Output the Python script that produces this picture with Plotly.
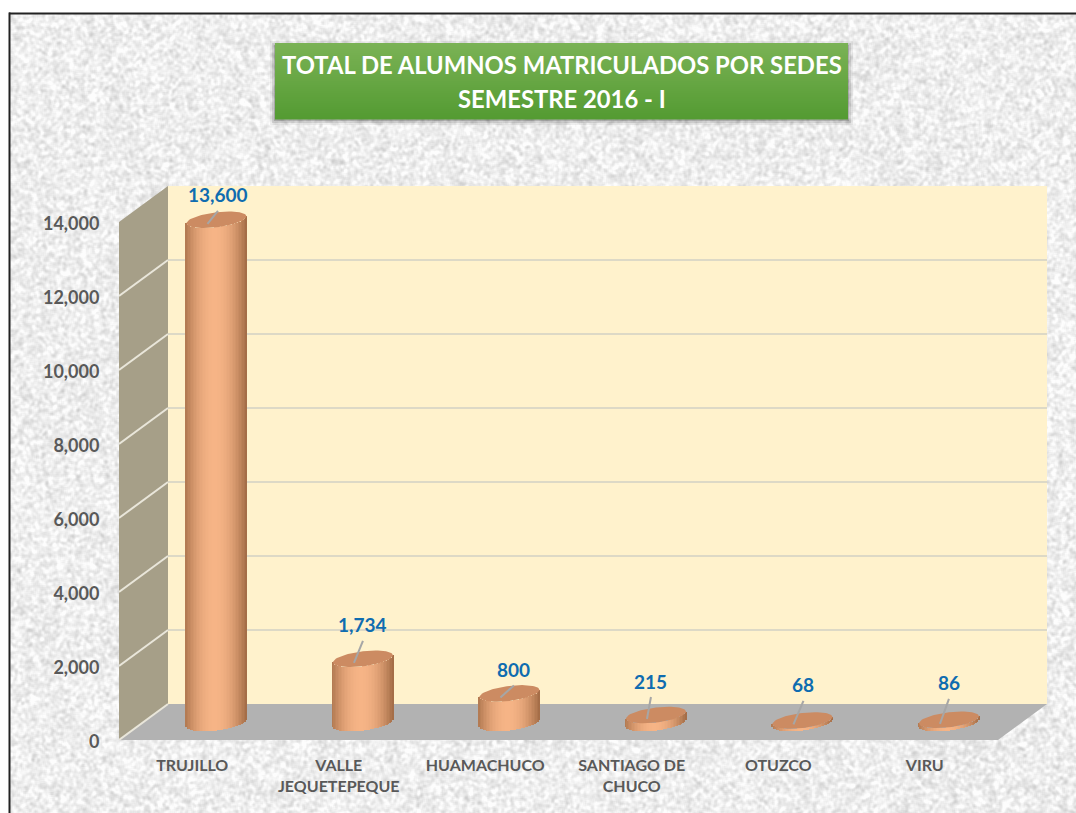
import base64, struct, zlib
import numpy as np
import plotly.graph_objects as go

categories = ["TRUJILLO", "VALLE<br>JEQUETEPEQUE", "HUAMACHUCO", "SANTIAGO DE<br>CHUCO", "OTUZCO", "VIRU"]
values = [13600, 1734, 800, 215, 68, 86]
y_ticks = [0, 2000, 4000, 6000, 8000, 10000, 12000, 14000]
title_lines = ["TOTAL DE ALUMNOS MATRICULADOS POR SEDES", "SEMESTRE 2016 - I"]

# layout constants (pixels)
W, H = 1076, 813
PL, PR, PT, PB = 119, 1047, 184, 740
XPX = 146.5            # px per category
YPX = 518 / 14000      # px per value unit
DEPTH_X, DEPTH_Y = 49, 36
BAR_DX, BAR_DY = 24.2, 17
BAR_HW, CAP_H, TILT = 30.0, 7.5, 3.5
label_dx = [1.5, 0, 4.5, -5, 1, 0]
label_dy = [-25, -34, -24, -34, -35.5, -37]

ux = lambda px: px / XPX
uy = lambda px: px / YPX
xmax = 5.5 + ux(DEPTH_X)
ymax = (PB - PT) / YPX
px_x = lambda p: (p - PL) / (PR - PL)
px_y = lambda p: (PB - p) / (PB - PT)


def texture_uri(w, h):
    yy, xx = np.mgrid[0:h, 0:w]
    n = np.sin(xx * 12.9898 + yy * 78.233) * 43758.5453
    n = n - np.floor(n)
    for _ in range(2):
        n = sum(np.roll(np.roll(n, a, 0), b, 1) for a in (-1, 0, 1) for b in (-1, 0, 1)) / 9
    n = (n - n.mean()) / n.std()
    v = np.clip(238 + n * 9, 195, 253).astype(np.uint8)
    raw = b"".join(b"\x00" + v[i].tobytes() for i in range(h))
    def chunk(t, d):
        return struct.pack(">I", len(d)) + t + d + struct.pack(">I", zlib.crc32(t + d) & 0xffffffff)
    png = b"\x89PNG\r\n\x1a\n" + chunk(b"IHDR", struct.pack(">IIBBBBB", w, h, 8, 0, 0, 0, 0)) + \
        chunk(b"IDAT", zlib.compress(raw, 9)) + chunk(b"IEND", b"")
    return "data:image/png;base64," + base64.b64encode(png).decode()


def mix(a, b, t):
    return "rgb(%d,%d,%d)" % tuple(round(a[i] + (b[i] - a[i]) * t) for i in range(3))


shapes = []
def rect(x0, y0, x1, y1, color, opacity=1.0):
    shapes.append(dict(type="rect", xref="paper", yref="paper", x0=px_x(x0), x1=px_x(x1),
                       y0=px_y(y1), y1=px_y(y0), fillcolor=color, opacity=opacity,
                       line_width=0, layer="below"))

def data_poly(pts, color):
    path = "M " + " L ".join(f"{x},{y}" for x, y in pts) + " Z"
    shapes.append(dict(type="path", xref="x", yref="y", path=path, fillcolor=color,
                       line_width=0, layer="below"))

def data_line(x0, y0, x1, y1, color):
    shapes.append(dict(type="line", xref="x", yref="y", x0=x0, y0=y0, x1=x1, y1=y1,
                       line=dict(color=color, width=2), layer="below"))

# frame
rect(9, 12.5, W, 14.5, "#222222")
rect(8.5, 12.5, 10.5, H, "#222222")
# title box: shadow + gradient
for g, a in [(6, .06), (4, .10), (2, .16)]:
    rect(275 - g + 1, 43 - g + 4, 848 + g - 1, 119 + g, "#000000", a)
n_g = 38
for i in range(n_g):
    t = i / (n_g - 1)
    rect(275, 43 + i * 2, 848, 43 + (i + 1) * 2 + .5, mix((122, 178, 85), (84, 155, 50), t))

x0, dx, dy = -0.5, ux(DEPTH_X), uy(DEPTH_Y)
data_poly([(x0 + dx, dy), (5.5 + dx, dy), (5.5 + dx, 14000 + dy), (x0 + dx, 14000 + dy)], "#FFF2CC")
data_poly([(x0, 0), (x0 + dx, dy), (x0 + dx, 14000 + dy), (x0, 14000)], "#A69F88")
data_poly([(x0, 0), (5.5, 0), (5.5 + dx, dy), (x0 + dx, dy)], "#B2B2B2")
for v in y_ticks[:-1]:
    data_line(x0, v, x0 + dx, v + dy, "#E9E6DA")
for v in y_ticks[1:-1]:
    data_line(x0 + dx, v + dy, 5.5 + dx, v + dy, "#DDD9C6")

fig = go.Figure()

# cylinders: vertical strips through the axes
n_s = 41
us = np.linspace(-1, 1, n_s)
arc = np.sqrt(1 - us ** 2)
bx, bb, by, bc = [], [], [], []
dark, light = (165, 110, 72), (246, 180, 134)
for i, v in enumerate(values):
    cx = i + ux(BAR_DX)
    for u, a in zip(us, arc):
        bx.append(cx + u * ux(BAR_HW))
        bb.append(uy(BAR_DY - CAP_H * a + TILT * u))
        by.append(v)
        bc.append(mix(dark, light, max(0.0, 1 - abs((u + 0.05) / 1.05) ** 2.0)))
fig.add_trace(go.Bar(x=bx, y=by, base=bb, width=ux(2 * BAR_HW / (n_s - 1) + .3),
                     marker=dict(color=bc, line_width=0), hoverinfo="skip"))

# caps and leaders
th = np.linspace(0, 2 * np.pi, 73)
annotations = []
for i, v in enumerate(values):
    cx = i + ux(BAR_DX)
    cy = v + uy(BAR_DY)
    fig.add_trace(go.Scatter(x=cx + np.cos(th) * ux(BAR_HW),
                             y=cy + uy(CAP_H) * np.sin(th) + uy(TILT) * np.cos(th),
                             mode="lines", fill="toself", fillcolor="#CC8B62",
                             line=dict(width=0, color="#CC8B62"), hoverinfo="skip"))
    lx = cx + ux(label_dx[i])
    ly = cy - uy(label_dy[i])
    fig.add_trace(go.Scatter(x=[cx - ux(9), lx], y=[cy - uy(4), ly - uy(16)], mode="lines",
                             line=dict(color="#A6A6A6", width=2), hoverinfo="skip"))
    annotations.append(dict(x=lx, y=ly, xref="x", yref="y", text=f"<b>{v:,}</b>", showarrow=False,
                            xanchor="center", yanchor="middle",
                            font=dict(family="Lato", size=19, color="#0F6CB0")))

for line, yp in zip(title_lines, (65, 99)):
    annotations.append(dict(x=px_x(561.5), y=px_y(yp), xref="paper", yref="paper", text=f"<b>{line}</b>",
                            showarrow=False, xanchor="center", yanchor="middle",
                            font=dict(family="Lato", size=23.8, color="#FFFFFF")))

fig.update_layout(
    width=W, height=H, autosize=False, showlegend=False, barmode="overlay", bargap=0,
    paper_bgcolor="#FFFFFF", plot_bgcolor="rgba(0,0,0,0)",
    margin=dict(l=PL, r=W - PR, t=PT, b=H - PB, pad=0),
    font=dict(family="Lato"), shapes=shapes, annotations=annotations,
    images=[dict(source=texture_uri(W - 10, H - 14), xref="paper", yref="paper",
                 x=px_x(10), y=px_y(14), sizex=px_x(W) - px_x(10), sizey=px_y(14) - px_y(H),
                 sizing="stretch", xanchor="left", yanchor="top", layer="below")],
    xaxis=dict(range=[-0.5, xmax], tickmode="array", tickvals=list(range(6)), ticktext=categories,
               showgrid=False, zeroline=False, showline=False, ticks="outside", ticklen=11,
               tickcolor="rgba(0,0,0,0)", tickfont=dict(family="Lato", size=16, color="#595959", weight="bold")),
    yaxis=dict(range=[0, ymax], tickmode="array", tickvals=y_ticks, tickformat=",d",
               showgrid=False, zeroline=False, showline=False, ticks="outside", ticklen=15,
               ticklabelshift=2,
               tickcolor="rgba(0,0,0,0)", tickfont=dict(family="Lato", size=18, color="#595959", weight="bold")),
)
fig.write_html("out.html", config=dict(displayModeBar=False),
               post_script="document.body.style.margin='0';document.body.style.overflow='hidden';")
